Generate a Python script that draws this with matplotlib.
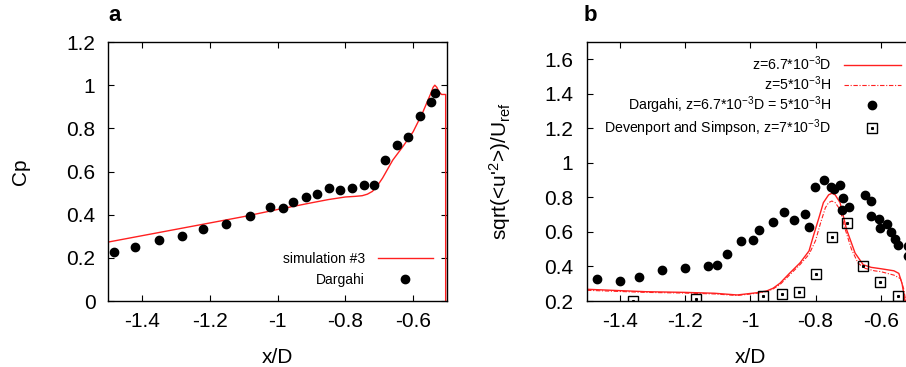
import matplotlib.pyplot as plt
from matplotlib.legend_handler import HandlerTuple

# --- panel a: pressure coefficient ---
dargahi_cp_x = [-1.481, -1.421, -1.351, -1.281, -1.221, -1.151, -1.080, -1.021, -0.985,
                -0.953, -0.917, -0.883, -0.849, -0.815, -0.781, -0.746, -0.715, -0.683,
                -0.649, -0.614, -0.580, -0.546, -0.536]
dargahi_cp = [0.228, 0.251, 0.282, 0.302, 0.332, 0.357, 0.394, 0.434, 0.429,
              0.458, 0.480, 0.494, 0.522, 0.513, 0.525, 0.537, 0.539, 0.653,
              0.721, 0.758, 0.857, 0.922, 0.963]

sim_cp_x = [-1.5, -1.3, -1.1, -1.0, -0.9, -0.85, -0.8, -0.77, -0.75, -0.735, -0.72,
            -0.705, -0.69, -0.66, -0.63, -0.6, -0.573, -0.548, -0.541, -0.536, -0.53,
            -0.524, -0.516, -0.507, -0.504, -0.504]
sim_cp = [0.273, 0.332, 0.391, 0.424, 0.455, 0.47, 0.482, 0.485, 0.488, 0.495, 0.508,
          0.535, 0.57, 0.653, 0.716, 0.784, 0.869, 0.961, 0.99, 1.0, 0.99,
          0.969, 0.957, 0.957, 0.957, 0.0]

# --- panel b: streamwise fluctuations ---
sim_d_x = [-1.5, -1.32, -1.2, -1.11, -1.04, -0.98, -0.95, -0.93, -0.909, -0.88, -0.848,
           -0.82, -0.807, -0.79, -0.776, -0.76, -0.75, -0.74, -0.725, -0.705, -0.679,
           -0.654, -0.63, -0.6, -0.56, -0.545, -0.535, -0.526]
sim_d = [0.268, 0.254, 0.25, 0.245, 0.235, 0.248, 0.258, 0.274, 0.303, 0.36, 0.42,
         0.49, 0.575, 0.68, 0.77, 0.815, 0.824, 0.815, 0.77, 0.614, 0.478,
         0.41, 0.395, 0.387, 0.375, 0.36, 0.3, 0.2]

sim_h_x = [-1.5, -1.32, -1.2, -1.11, -1.04, -0.98, -0.95, -0.93, -0.909, -0.88, -0.848,
           -0.82, -0.80, -0.785, -0.77, -0.76, -0.75, -0.74, -0.725, -0.71, -0.69,
           -0.67, -0.65, -0.62, -0.6, -0.56, -0.54, -0.53, -0.524]
sim_h = [0.262, 0.25, 0.246, 0.241, 0.232, 0.245, 0.255, 0.27, 0.295, 0.35, 0.41,
         0.47, 0.55, 0.65, 0.74, 0.77, 0.779, 0.77, 0.73, 0.62, 0.5,
         0.42, 0.39, 0.375, 0.37, 0.35, 0.33, 0.27, 0.2]

dargahi_u_x = [-1.470, -1.399, -1.340, -1.270, -1.200, -1.130, -1.101, -1.070, -1.029,
               -0.992, -0.973, -0.929, -0.896, -0.865, -0.831, -0.820, -0.801, -0.774,
               -0.754, -0.744, -0.726, -0.717, -0.718, -0.699, -0.648, -0.631, -0.629,
               -0.605, -0.603, -0.582, -0.569, -0.557, -0.547, -0.518, -0.518]
dargahi_u = [0.330, 0.318, 0.338, 0.381, 0.391, 0.402, 0.406, 0.470, 0.550,
             0.556, 0.610, 0.659, 0.715, 0.670, 0.703, 0.628, 0.863, 0.902,
             0.863, 0.847, 0.871, 0.795, 0.727, 0.746, 0.814, 0.779, 0.692,
             0.674, 0.620, 0.647, 0.598, 0.557, 0.525, 0.52, 0.458]

devenport_x = [-1.360, -1.166, -0.962, -0.904, -0.851, -0.799, -0.750, -0.703,
               -0.654, -0.603, -0.548]
devenport_u = [0.202, 0.213, 0.231, 0.243, 0.254, 0.357, 0.569, 0.651,
               0.400, 0.313, 0.231]

xticks = [-1.4, -1.2, -1.0, -0.8, -0.6]
cp_ticks = [0, 0.2, 0.4, 0.6, 0.8, 1.0, 1.2]
u_ticks = [0.2, 0.4, 0.6, 0.8, 1.0, 1.2, 1.4, 1.6]

plt.rcParams['font.family'] = ['Liberation Sans', 'DejaVu Sans']
plt.rcParams['mathtext.default'] = 'regular'
plt.rcParams['axes.unicode_minus'] = False

red = '#ff2020'
fig = plt.figure(figsize=(9.06, 3.67), dpi=100)
ax1 = fig.add_axes([0.1192, 0.1798, 0.3742, 0.7057])
ax2 = fig.add_axes([0.6479, 0.1798, 0.3604, 0.7057])


def style(ax, yt, ypad):
    ax.set_xticks(xticks)
    ax.set_xticklabels(['%g' % t for t in xticks])
    ax.set_yticks(yt)
    ax.set_yticklabels(['%g' % t for t in yt])
    ax.tick_params(direction='in', top=True, right=True, length=4, width=0.8,
                   labelsize=15)
    ax.tick_params(axis='x', pad=8)
    ax.tick_params(axis='y', pad=ypad)
    for s in ax.spines.values():
        s.set_linewidth(1.0)


# panel a
ax1.plot(sim_cp_x, sim_cp, color=red, lw=1.0, label='simulation #3')
ax1.plot(dargahi_cp_x, dargahi_cp, 'o', color='black', ms=6, label='Dargahi')
ax1.set_xlim(-1.5, -0.5)
ax1.set_ylim(0, 1.2)
style(ax1, cp_ticks, 9)
ax1.set_xlabel('x/D', fontsize=15)
ax1.set_ylabel('Cp', fontsize=15)
ax1.xaxis.set_label_coords(0.5, -0.18)
ax1.yaxis.set_label_coords(-0.23, 0.5)
ax1.legend(loc='lower right', frameon=False, markerfirst=False, fontsize=10,
           handlelength=4, handletextpad=0.9, labelspacing=0.5, borderaxespad=0.6)
ax1.text(0.0, 1.06, 'a', transform=ax1.transAxes, fontsize=16, fontweight='bold',
         ha='left', va='bottom')

# panel b
l1, = ax2.plot(sim_d_x, sim_d, color=red, lw=1.0)
l2, = ax2.plot(sim_h_x, sim_h, color=red, lw=0.8, ls=(0, (4, 1.5, 1, 1.5)))
pc, = ax2.plot(dargahi_u_x, dargahi_u, 'o', color='black', ms=6)
sq, = ax2.plot(devenport_x, devenport_u, 's', mfc='none', mec='black', mew=1.0, ms=7)
dt, = ax2.plot(devenport_x, devenport_u, 's', color='black', ms=1.2)
ax2.set_xlim(-1.5, -0.5)
ax2.set_ylim(0.2, 1.7)
style(ax2, u_ticks, 10)
ax2.set_xlabel('x/D', fontsize=15)
ax2.set_ylabel("sqrt(<u'$^2$>)/U$_{ref}$", fontsize=15)
ax2.xaxis.set_label_coords(0.5, -0.18)
ax2.yaxis.set_label_coords(-0.227, 0.5)
ax2.legend([l1, l2, pc, (sq, dt)],
           ['z=6.7*10$^{-3}$D', 'z=5*10$^{-3}$H',
            'Dargahi, z=6.7*10$^{-3}$D = 5*10$^{-3}$H',
            'Devenport and Simpson, z=7*10$^{-3}$D'],
           handler_map={tuple: HandlerTuple(ndivide=1)},
           loc='upper right', frameon=False, markerfirst=False, fontsize=10.2,
           handlelength=4, handletextpad=0.9, labelspacing=0.1, borderaxespad=0.5)
ax2.text(-0.01, 1.06, 'b', transform=ax2.transAxes, fontsize=16, fontweight='bold',
         ha='left', va='bottom')

fig.savefig('out.png', dpi=100)
